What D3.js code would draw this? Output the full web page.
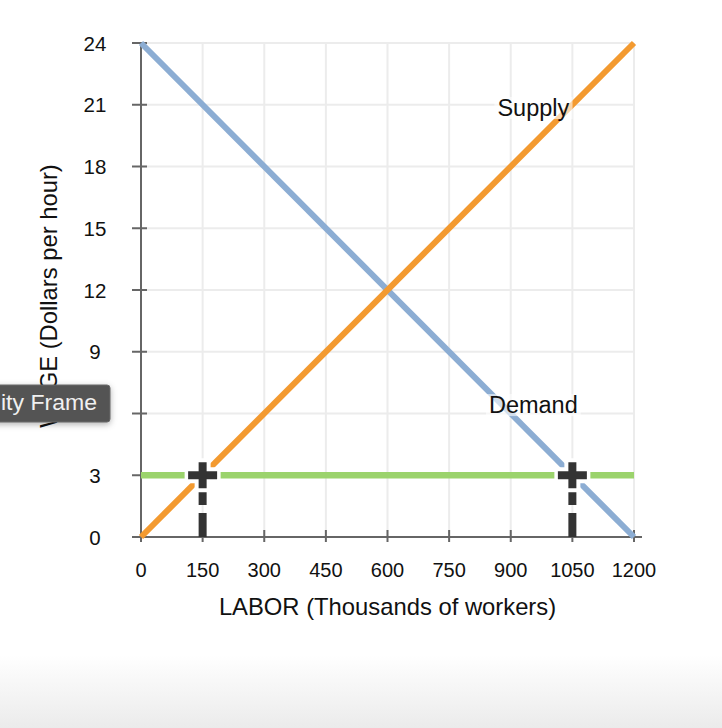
<!DOCTYPE html>
<html>
<head>
<meta charset="utf-8">
<script src="https://cdn.jsdelivr.net/npm/d3@7"></script>
<style>
  html, body { margin: 0; padding: 0; background: #fff; }
  svg { display: block; font-family: "Liberation Sans", Arial, Helvetica, sans-serif; }
</style>
</head>
<body>
<svg id="chart" width="722" height="728"></svg>
<script>
// ---- data ----
const laborTicks = [0, 150, 300, 450, 600, 750, 900, 1050, 1200];
const wageTicks = [0, 3, 6, 9, 12, 15, 18, 21, 24];
// the "6" label is hidden behind the tooltip in the reference
const wageTickLabels = ["0", "3", "", "9", "12", "15", "18", "21", "24"];
const demandLabor = [0, 1200];
const demandWage = [24, 0];
const supplyLabor = [0, 1200];
const supplyWage = [0, 24];
const minWageLabor = [0, 1200];
const minWageValue = [3, 3];
const markerLabor = [150, 1050];
const markerWage = [3, 3];
const curveLabelNames = ["Supply", "Demand"];
const curveLabelLabor = [955, 955];
const curveLabelWage = [20.45, 6.02];

// ---- chart ----
const svg = d3.select("#chart");
const x = d3.scaleLinear().domain([0, 1200]).range([141, 634]);
const y = d3.scaleLinear().domain([0, 24]).range([537, 43]);

// bottom shade
const defs = svg.append("defs");
const grad = defs.append("linearGradient").attr("id", "shade").attr("x1", 0).attr("y1", 0).attr("x2", 0).attr("y2", 1);
grad.append("stop").attr("offset", "0").attr("stop-color", "#ffffff");
grad.append("stop").attr("offset", "1").attr("stop-color", "#ebebeb");
svg.append("rect").attr("x", 0).attr("y", 655).attr("width", 722).attr("height", 73).attr("fill", "url(#shade)");

// grid
const grid = svg.append("g");
grid.selectAll("line.v").data(laborTicks.slice(1)).join("line")
  .attr("x1", d => x(d)).attr("x2", d => x(d)).attr("y1", y(0)).attr("y2", y(24))
  .attr("stroke", "#ececec").attr("stroke-width", 2);
grid.selectAll("line.h").data(wageTicks.slice(1)).join("line")
  .attr("x1", x(0)).attr("x2", x(1200)).attr("y1", d => y(d)).attr("y2", d => y(d))
  .attr("stroke", "#ececec").attr("stroke-width", 2);

// axes
const ax = svg.append("g").attr("stroke", "#666").attr("stroke-width", 2);
ax.append("line").attr("x1", x(0)).attr("x2", x(0)).attr("y1", y(0) + 1).attr("y2", y(24));
ax.append("line").attr("x1", x(0) - 9).attr("x2", x(1200) + 8).attr("y1", y(0)).attr("y2", y(0));
ax.selectAll("line.yt").data(wageTicks).join("line")
  .attr("x1", x(0) - 9).attr("x2", x(0) + 6).attr("y1", d => y(d)).attr("y2", d => y(d));
ax.selectAll("line.xt").data(laborTicks).join("line")
  .attr("x1", d => x(d)).attr("x2", d => x(d)).attr("y1", y(0) - 7).attr("y2", y(0) + 5);

// tick labels
svg.append("g").selectAll("text").data(wageTicks).join("text")
  .attr("x", 95).attr("y", d => y(d) + 7.5)
  .attr("text-anchor", "middle").attr("font-size", 20.5).attr("fill", "#111")
  .text((d, i) => wageTickLabels[i]);
svg.append("g").selectAll("text").data(laborTicks).join("text")
  .attr("x", d => x(d)).attr("y", 577)
  .attr("text-anchor", "middle").attr("font-size", 20).attr("fill", "#111")
  .text(d => d);

// axis titles
svg.append("text").attr("x", 387.5).attr("y", 615).attr("text-anchor", "middle")
  .attr("font-size", 23.8).attr("fill", "#111").text("LABOR (Thousands of workers)");
svg.append("text").attr("transform", "translate(57,296) rotate(-90)").attr("text-anchor", "middle")
  .attr("font-size", 23.8).attr("fill", "#111").text("WAGE (Dollars per hour)");

// curves
const line = d3.line().x(d => x(d[0])).y(d => y(d[1]));
svg.append("path").datum(d3.zip(demandLabor, demandWage)).attr("d", line)
  .attr("fill", "none").attr("stroke", "#8cadd3").attr("stroke-width", 6);
svg.append("path").datum(d3.zip(supplyLabor, supplyWage)).attr("d", line)
  .attr("fill", "none").attr("stroke", "#f39a30").attr("stroke-width", 6);
svg.append("path").datum(d3.zip(minWageLabor, minWageValue)).attr("d", line)
  .attr("fill", "none").attr("stroke", "#9bd36c").attr("stroke-width", 6.5);

// markers: dashed drop lines + crosses with white halo
const mk = svg.append("g");
const pts = d3.zip(markerLabor, markerWage);
mk.selectAll("line.drop").data(pts).join("line")
  .attr("x1", d => x(d[0])).attr("x2", d => x(d[0]))
  .attr("y1", y(0)).attr("y2", d => y(d[1]))
  .attr("stroke", "#333").attr("stroke-width", 8).attr("stroke-dasharray", "24,8");
pts.forEach(d => {
  const cx = x(d[0]), cy = y(d[1]);
  mk.append("line").attr("x1", cx - 18).attr("x2", cx + 18).attr("y1", cy).attr("y2", cy)
    .attr("stroke", "#fff").attr("stroke-width", 16);
  mk.append("line").attr("x1", cx).attr("x2", cx).attr("y1", cy - 17).attr("y2", cy + 17)
    .attr("stroke", "#fff").attr("stroke-width", 16);
});
pts.forEach(d => {
  const cx = x(d[0]), cy = y(d[1]);
  mk.append("line").attr("x1", cx - 14.5).attr("x2", cx + 14.5).attr("y1", cy).attr("y2", cy)
    .attr("stroke", "#333").attr("stroke-width", 8);
  mk.append("line").attr("x1", cx).attr("x2", cx).attr("y1", cy - 13).attr("y2", cy + 13)
    .attr("stroke", "#333").attr("stroke-width", 8);
});

// curve labels with translucent backing
const lab = svg.append("g");
curveLabelNames.forEach((name, i) => {
  const t = lab.append("text").attr("x", x(curveLabelLabor[i])).attr("y", y(curveLabelWage[i]))
    .attr("text-anchor", "middle").attr("font-size", 23.5).attr("fill", "#111").text(name);
  const b = t.node().getBBox();
  lab.insert("rect", "text").attr("x", b.x - 3).attr("y", b.y + 2).attr("width", b.width + 6).attr("height", b.height - 4)
    .attr("fill", "#fff").attr("opacity", 0.6);
});

// tooltip fragment
const tip = svg.append("g");
tip.append("rect").attr("x", -10).attr("y", 385).attr("width", 120).attr("height", 37).attr("rx", 3)
  .attr("fill", "#545454").attr("stroke", "#6a6a6a").attr("stroke-width", 1)
  .style("filter", "drop-shadow(0px 2px 3px rgba(0,0,0,0.3))");
tip.append("text").attr("x", 1).attr("y", 410)
  .attr("font-size", 22).attr("fill", "#f0f0f0")
  .attr("textLength", 96).attr("lengthAdjust", "spacingAndGlyphs").text("ity Frame");
</script>
</body>
</html>
